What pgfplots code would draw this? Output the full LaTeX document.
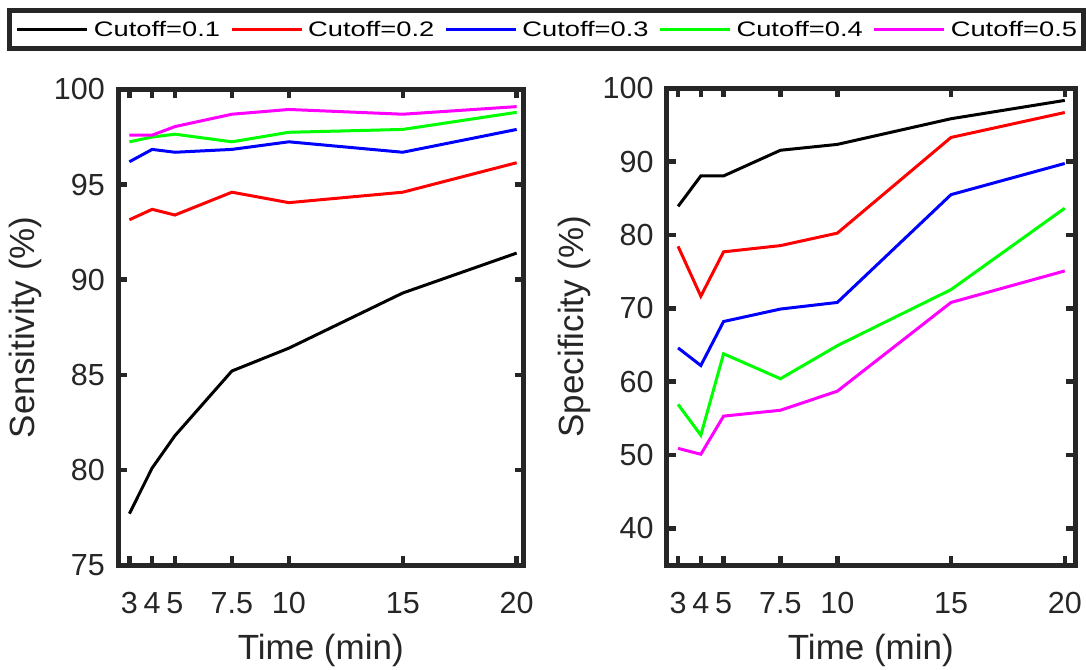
\documentclass[border=0pt]{standalone}
\usepackage{fontspec}
\setmainfont{Liberation Sans}
\newfontfamily\legfont[FakeStretch=1.3]{Liberation Sans}
\usepackage{pgfplots}
\pgfplotsset{compat=1.18}
\definecolor{axc}{HTML}{262626}
\definecolor{mgreen}{RGB}{0,255,0}
\definecolor{mmag}{RGB}{255,0,255}
\pgfplotsset{mystyle/.style={
  scale only axis, anchor=south west,
  axis line style={draw=axc, line width=5pt, line cap=rect},
  tick style={draw=axc, line width=4.5pt},
  tick align=inside, major tick length=9pt,
  xtick={3,4,5,7.5,10,15,20}, xticklabels={3,4,5,7.5,10,15,20},
  /pgf/number format/assume math mode=true,
  ticklabel style={font=\fontsize{30.5}{36}\selectfont, text=axc},
  x tick label style={anchor=base, inner sep=0pt, yshift=-48pt},
  y tick label style={anchor=east, inner sep=0pt, xshift=-13pt},
  label style={font=\fontsize{35}{42}\selectfont, text=axc},
  xlabel style={at={(axis description cs:0.5,-0.198)}, anchor=base},
  every axis plot/.append style={line width=3pt},
  legend image code/.code={\draw[#1] (0pt,0pt) -- (70pt,0pt);},
}}
\begin{document}
\begin{tikzpicture}
\useasboundingbox (0,0) rectangle (1086pt,669pt);
\begin{axis}[mystyle, at={(118pt,104pt)}, width=405.5pt, height=475.5pt,
  xmin=2.5, xmax=20.3, ymin=75, ymax=100, ytick={75,80,85,90,95,100},
  xlabel={Time (min)}, ylabel={Sensitivity (\%)},
  ylabel style={at={(axis description cs:-0.205,0.5)}, anchor=base},
  legend columns=5,
  legend style={at={(axis description cs:1.0567,1.1262)}, anchor=center,
    draw=axc, line width=5pt, inner xsep=6pt, inner ysep=11pt,
    nodes={inner sep=0pt, font=\fontsize{21}{25}\legfont},
    /tikz/every odd column/.style={column sep=5pt},
    /tikz/every even column/.style={column sep=10pt}},
]
\addplot[black] coordinates {(3,77.7)(4,80.1)(5,81.8)(7.5,85.2)(10,86.4)(15,89.3)(20,91.4)};
\addplot[red] coordinates {(3,93.15)(4,93.7)(5,93.4)(7.5,94.6)(10,94.05)(15,94.6)(20,96.15)};
\addplot[blue] coordinates {(3,96.2)(4,96.85)(5,96.7)(7.5,96.85)(10,97.25)(15,96.7)(20,97.9)};
\addplot[mgreen] coordinates {(3,97.25)(4,97.5)(5,97.65)(7.5,97.25)(10,97.75)(15,97.9)(20,98.8)};
\addplot[mmag] coordinates {(3,97.6)(4,97.6)(5,98.05)(7.5,98.7)(10,98.95)(15,98.7)(20,99.1)};
\legend{Cutoff=0.1,Cutoff=0.2,Cutoff=0.3,Cutoff=0.4,Cutoff=0.5}
\end{axis}
\begin{axis}[mystyle, at={(666.7pt,104pt)}, width=408.3pt, height=476.7pt,
  xmin=2.5, xmax=20.45, ymin=35, ymax=100, ytick={40,50,60,70,80,90,100},
  xlabel={Time (min)}, ylabel={Specificity (\%)},
  ylabel style={at={(axis description cs:-0.205,0.5)}, anchor=base},
]
\addplot[black] coordinates {(3,83.9)(4,88.05)(5,88.05)(7.5,91.55)(10,92.35)(15,95.85)(20,98.35)};
\addplot[red] coordinates {(3,78.45)(4,71.65)(5,77.7)(7.5,78.55)(10,80.25)(15,93.3)(20,96.7)};
\addplot[blue] coordinates {(3,64.6)(4,62.2)(5,68.2)(7.5,69.9)(10,70.8)(15,85.5)(20,89.75)};
\addplot[mgreen] coordinates {(3,56.9)(4,52.7)(5,63.8)(7.5,60.4)(10,64.9)(15,72.55)(20,83.65)};
\addplot[mmag] coordinates {(3,50.9)(4,50.1)(5,55.3)(7.5,56.1)(10,58.7)(15,70.8)(20,75.1)};
\end{axis}
\end{tikzpicture}
\end{document}
